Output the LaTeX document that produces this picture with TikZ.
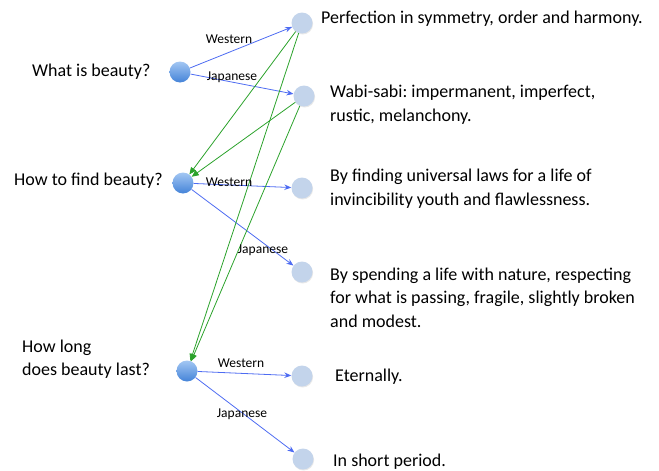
\documentclass[tikz,border=0pt]{standalone}
\usepackage{fontspec}
\setmainfont{Carlito}
\frenchspacing
\usetikzlibrary{arrows.meta,shadows}
\definecolor{qtop}{HTML}{A3C7F3}
\definecolor{qbot}{HTML}{4483D8}
\definecolor{afill}{HTML}{C3D4EB}
\definecolor{blueline}{HTML}{4E6CF2}
\definecolor{greenline}{HTML}{2BA22B}
\begin{document}
\begin{tikzpicture}[x=1pt,y=-1pt,
  qnode/.style={circle,minimum size=21pt,inner sep=0pt,top color=qtop,bottom color=qbot,draw=none},
  anode/.style={circle,minimum size=21pt,inner sep=0pt,fill=afill,draw=none,
    drop shadow={opacity=0.18,shadow xshift=0.6pt,shadow yshift=-1pt}},
  maintext/.style={inner sep=0pt,anchor=west,align=left,font=\fontsize{18}{23.5}\selectfont},
  lbl/.style={inner sep=0pt,font=\fontsize{13.5}{16}\selectfont},
  bluearrow/.style={draw=blueline,line width=0.8pt,-{Stealth[length=7pt,width=5.5pt]}},
  greenarrow/.style={draw=greenline,line width=0.8pt,-{Triangle[length=7pt,width=6pt]}}]
\useasboundingbox (0,0) rectangle (659,471);
% question nodes
\node[qnode] (q1) at (180,72) {};
\node[qnode] (q2) at (183,183) {};
\node[qnode] (q3) at (187,371) {};
% answer nodes
\node[anode] (a1) at (302,23) {};
\node[anode] (a2) at (304,96) {};
\node[anode] (a3) at (302,188) {};
\node[anode] (a4) at (302,272) {};
\node[anode] (a5) at (302,376) {};
\node[anode] (a6) at (303,459) {};
% question texts
\node[maintext] (t1) at (32,72) {What is beauty?};
\node[maintext] (t2) at (14,181) {How to find beauty?};
\node[maintext] (t3) at (22,359) {How long\\does beauty last?};
% answer texts
\node[maintext] (r1) at (321,19) {Perfection in symmetry, order and harmony.};
\node[maintext] (r2) at (330,104.5) {Wabi-sabi: impermanent, imperfect,\\rustic, melanchony.};
\node[maintext] (r3) at (330,188.5) {By finding universal laws for a life of\\invincibility youth and flawlessness.};
\node[maintext] (r4) at (330,297.5) {By spending a life with nature, respecting\\for what is passing, fragile, slightly broken\\and modest.};
\node[maintext] (r5) at (335,377) {Eternally.};
\node[maintext] (r6) at (333,462) {In short period.};
% blue connectors
\draw[bluearrow] (q1) -- (a1);
\draw[bluearrow] (q1) -- (a2);
\draw[bluearrow] (q2) -- (a3);
\draw[bluearrow] (q2) -- (a4);
\draw[bluearrow] (q3) -- (a5);
\draw[bluearrow] (q3) -- (a6);
% green connectors
\draw[greenarrow] (a1) -- (q2);
\draw[greenarrow] (a2) -- (q2);
\draw[greenarrow] (a1) -- (q3);
\draw[greenarrow] (a2) -- (q3);
% labels
\node[lbl] (l1) at (229,39) {Western};
\node[lbl] (l2) at (232,77) {Japanese};
\node[lbl] (l3) at (229,182) {Western};
\node[lbl] (l4) at (263,250) {Japanese};
\node[lbl] (l5) at (241,363) {Western};
\node[lbl] (l6) at (242,414) {Japanese};
\end{tikzpicture}
\end{document}
